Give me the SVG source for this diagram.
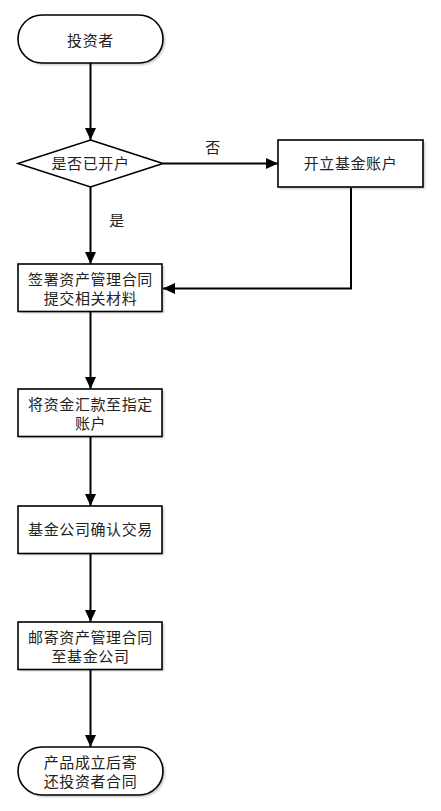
<svg xmlns="http://www.w3.org/2000/svg" width="441" height="811" viewBox="0 0 441 811">
<style>
.shape{fill:#ffffff;stroke:#000000;stroke-width:1.6}
.sh{fill:#000000;opacity:0.22}
.t{font-family:"Noto Sans CJK SC","Liberation Sans",sans-serif;font-size:15px;letter-spacing:0.6px;fill:#222222;text-anchor:middle}
.c{fill:none;stroke:#000000;stroke-width:2}
</style>
<defs>
<marker id="arr" viewBox="0 0 12 11" refX="12" refY="5.5" markerWidth="12" markerHeight="11" markerUnits="userSpaceOnUse" orient="auto">
<path d="M0,0 L12,5.5 L0,11 Z" fill="#000000"/>
</marker>
<filter id="blur" x="-10%" y="-10%" width="130%" height="130%"><feGaussianBlur stdDeviation="1"/></filter>
</defs>
<rect width="441" height="811" fill="#ffffff"/>
<g id="connectors">
<line class="c" x1="90.5" y1="63" x2="90.5" y2="140" marker-end="url(#arr)"/>
<line class="c" x1="163" y1="163.5" x2="278" y2="163.5" marker-end="url(#arr)"/>
<polyline class="c" points="351,188 351,288.5 163,288.5" marker-end="url(#arr)"/>
<line class="c" x1="90.5" y1="187" x2="90.5" y2="264" marker-end="url(#arr)"/>
<line class="c" x1="90.5" y1="312" x2="90.5" y2="389" marker-end="url(#arr)"/>
<line class="c" x1="90.5" y1="437" x2="90.5" y2="506" marker-end="url(#arr)"/>
<line class="c" x1="90.5" y1="553" x2="90.5" y2="622" marker-end="url(#arr)"/>
<line class="c" x1="90.5" y1="670" x2="90.5" y2="747" marker-end="url(#arr)"/>
<text class="t" x="213" y="153">否</text>
<text class="t" x="117" y="226">是</text>
</g>
<g id="n1">
<rect class="sh" filter="url(#blur)" x="20" y="17" width="145" height="48" rx="24"/>
<rect class="shape" x="18" y="15" width="145" height="48" rx="24"/>
<text class="t" x="90.5" y="45.5">投资者</text>
</g>
<g id="n2">
<polygon class="shape" points="90.5,140 163,163.5 90.5,187 18,163.5"/>
<text class="t" x="90.5" y="169">是否已开户</text>
</g>
<g id="n3">
<rect class="sh" filter="url(#blur)" x="280" y="142" width="145" height="47"/>
<rect class="shape" x="278" y="140" width="145" height="47"/>
<text class="t" x="350.5" y="169">开立基金账户</text>
</g>
<g id="n4">
<rect class="sh" filter="url(#blur)" x="20" y="266" width="144" height="47"/>
<rect class="shape" x="18" y="264" width="144" height="47.5"/>
<text class="t" x="90.5" y="285">签署资产管理合同</text>
<text class="t" x="90.5" y="304">提交相关材料</text>
</g>
<g id="n5">
<rect class="sh" filter="url(#blur)" x="20" y="391" width="144" height="47"/>
<rect class="shape" x="18" y="389" width="144" height="47.5"/>
<text class="t" x="90.5" y="410">将资金汇款至指定</text>
<text class="t" x="90.5" y="429">账户</text>
</g>
<g id="n6">
<rect class="sh" filter="url(#blur)" x="20" y="508" width="144" height="47"/>
<rect class="shape" x="18" y="506" width="144" height="47.5"/>
<text class="t" x="90.5" y="535">基金公司确认交易</text>
</g>
<g id="n7">
<rect class="sh" filter="url(#blur)" x="20" y="624" width="144" height="47"/>
<rect class="shape" x="18" y="622" width="144" height="47.5"/>
<text class="t" x="90.5" y="643">邮寄资产管理合同</text>
<text class="t" x="90.5" y="662">至基金公司</text>
</g>
<g id="n8">
<rect class="sh" filter="url(#blur)" x="20" y="749" width="145" height="48" rx="24"/>
<rect class="shape" x="18" y="747" width="145" height="48" rx="24"/>
<text class="t" x="90.5" y="768">产品成立后寄</text>
<text class="t" x="90.5" y="787">还投资者合同</text>
</g>
</svg>
